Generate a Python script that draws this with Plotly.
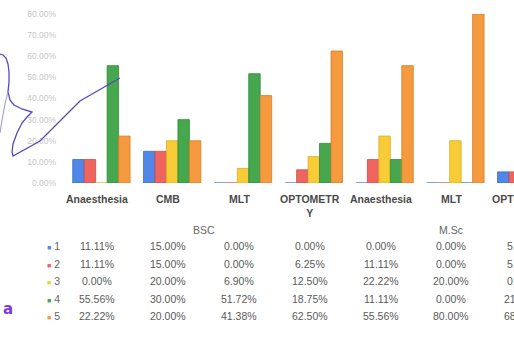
import plotly.graph_objects as go

# Programme groups and courses (x categories)
groups = ["BSC", "M.Sc"]
group_members = [[0, 1, 2, 3], [4, 5, 6]]
courses = ["Anaesthesia", "CMB", "MLT", "OPTOMETR<br>Y", "Anaesthesia", "MLT", "OPTOMETR<br>Y"]

# Response levels 1..5 (percent of respondents per course)
levels = ["1", "2", "3", "4", "5"]
level_1 = [11.11, 15.00, 0.00, 0.00, 0.00, 0.00, 5.26]
level_2 = [11.11, 15.00, 0.00, 6.25, 11.11, 0.00, 5.26]
level_3 = [0.00, 20.00, 6.90, 12.50, 22.22, 20.00, 0.00]
level_4 = [55.56, 30.00, 51.72, 18.75, 11.11, 0.00, 21.05]
level_5 = [22.22, 20.00, 41.38, 62.50, 55.56, 80.00, 68.42]
series = [level_1, level_2, level_3, level_4, level_5]

colors = ["#5087E8", "#EE6560", "#F8CC36", "#46A74E", "#F59A3F"]
edges = ["#3A6CC4", "#C94C48", "#D9AD22", "#2F8A38", "#D47D28"]

# Figure geometry (pixels)
W, H = 514, 339
ML, MR, MT, MB = 66, 0, 14, 156
PW, PH = W - ML - MR, H - MT - MB
SLOT = 70.8                      # pixel width of one category slot
XMIN = -0.5
XMAX = XMIN + PW / SLOT


def idx_paper(i):
    return (i - XMIN) / (XMAX - XMIN)


def px_x(p):
    return (p - ML) / PW


def px_y(p):
    return (MT + PH - p) / PH


fig = go.Figure()
x_idx = list(range(len(courses)))
for name, vals, c, e in zip(levels, series, colors, edges):
    fig.add_trace(go.Bar(
        x=x_idx, y=[v / 100 for v in vals], name=name,
        marker=dict(color=c, line=dict(color=e, width=0.8)),
        hoverinfo="skip",
    ))

ann = []
LABEL_SHIFT = -4
# course labels under each bar group
for i, c in enumerate(courses):
    ann.append(dict(x=idx_paper(i), y=px_y(191), xref="paper", yref="paper",
                    text=f"<b>{c}</b>", showarrow=False, xanchor="center", yanchor="top",
                    xshift=LABEL_SHIFT,
                    font=dict(family="Arial, Liberation Sans", size=10.5, color="#4a4a4a")))
# programme group labels
for g, members in zip(groups, group_members):
    centre = (members[0] + members[-1]) / 2 if g == "BSC" else members[1]
    ann.append(dict(x=idx_paper(centre), y=px_y(230), xref="paper", yref="paper",
                    text=g, showarrow=False, xanchor="center", yanchor="middle",
                    xshift=LABEL_SHIFT,
                    font=dict(family="Arial, Liberation Sans", size=10.5, color="#666666")))
# data table rows
row_y = [246, 263.5, 281, 298.5, 316]
for r, (name, vals, c) in enumerate(zip(levels, series, colors)):
    ann.append(dict(x=px_x(45), y=px_y(row_y[r]), xref="paper", yref="paper",
                    text=f'<span style="color:{c};font-size:7px">■</span> {name}',
                    showarrow=False, xanchor="left", yanchor="middle",
                    font=dict(family="Arial, Liberation Sans", size=10.5, color="#666666")))
    for i, v in enumerate(vals):
        ann.append(dict(x=idx_paper(i), y=px_y(row_y[r]), xref="paper", yref="paper",
                        text=f"{v:.2f}%", showarrow=False, xanchor="center", yanchor="middle",
                        xshift=LABEL_SHIFT,
                        font=dict(family="Arial, Liberation Sans", size=10.5, color="#5a5a5a")))

# handwritten pen marks on the page
ann.append(dict(x=px_x(8), y=px_y(309), xref="paper", yref="paper", text="<b>a</b>",
                showarrow=False, xanchor="center", yanchor="middle",
                font=dict(family="DejaVu Sans", size=15, color="#7B3AE0")))


def pen_path(points):
    return "M " + " L ".join(f"{px_x(x):.4f},{px_y(y):.4f}" for x, y in points)


stroke_main = [(0, 54), (3, 55), (6, 58), (8, 64), (9, 72), (9, 82), (8, 92), (10, 100),
               (14, 105), (22, 109), (32, 112), (27, 117), (22, 123), (17, 133), (13, 144),
               (12, 152), (13, 156), (40, 141), (80, 101), (120, 78)]
stroke_faint = [(8, 92), (5, 104), (3, 115), (1, 126), (0, 133)]
shapes = [
    dict(type="path", xref="paper", yref="paper", path=pen_path(stroke_main),
         line=dict(color="#5548C8", width=1.3)),
    dict(type="path", xref="paper", yref="paper", path=pen_path(stroke_faint),
         line=dict(color="#9A96C8", width=1)),
]

fig.update_layout(
    width=W, height=H, autosize=False,
    margin=dict(l=ML, r=MR, t=MT, b=MB, pad=0),
    paper_bgcolor="white", plot_bgcolor="white",
    barmode="group", bargap=0.19, bargroupgap=0,
    showlegend=False,
    annotations=ann, shapes=shapes,
    xaxis=dict(range=[XMIN, XMAX], showticklabels=False, showgrid=False,
               zeroline=False, showline=False, ticks=""),
    yaxis=dict(range=[0, 0.8], dtick=0.1, tickformat=".2%", showgrid=False,
               zeroline=False, showline=False, ticks="", ticklabelstandoff=9,
               tickfont=dict(family="Arial, Liberation Sans", size=8.5, color="#c6c6c6")),
)

fig.write_html("out.html")
